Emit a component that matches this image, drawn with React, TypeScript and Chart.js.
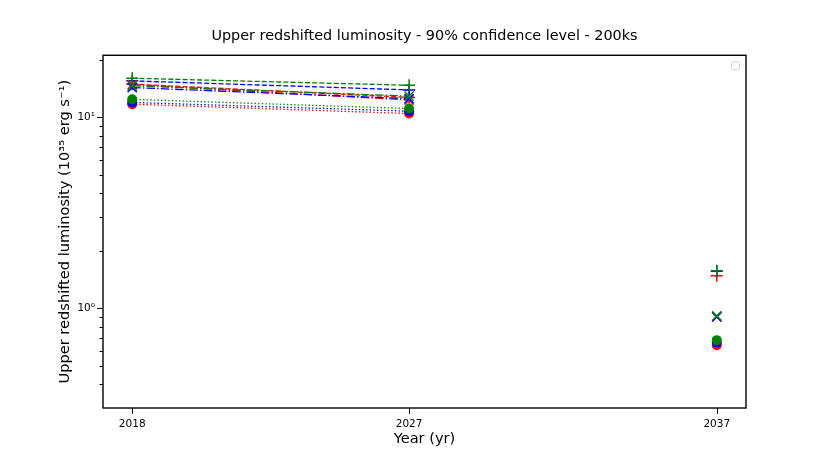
import { useEffect, useRef } from 'react';
import { Chart, registerables } from 'chart.js';

Chart.register(...registerables);

const FONT = "'DejaVu Sans', Verdana, sans-serif";

// observation years
const years = [2018, 2027, 2037];

// '+' markers, dashed lines
const redPlus = [14.9, 12.7, 1.48];
const bluePlus = [15.5, 13.9, 1.56];
const greenPlus = [16.0, 14.7, 1.57];

// 'x' markers, dash-dot lines
const redCross = [14.8, 12.3, 0.9];
const blueCross = [14.3, 12.5, 0.9];
const greenCross = [14.6, 12.9, 0.91];

// 'o' markers, dotted lines
const redCircle = [11.7, 10.45, 0.64];
const blueCircle = [11.95, 10.75, 0.66];
const greenCircle = [12.4, 11.1, 0.68];

const xTicks = [2018, 2027, 2037];
const yTicks = [0.4, 0.5, 0.6, 0.7, 0.8, 0.9, 1, 2, 3, 4, 5, 6, 7, 8, 9, 10, 20];
const yLabels: Record<number, string> = { 1: '10\u2070', 10: '10\u00b9' };

type Kind = 'plus' | 'cross' | 'circle';

const makeSeries = (label: string, values: number[], color: string, kind: Kind, order: number) => {
  const dash =
    kind === 'plus' ? [5, 2.2] : kind === 'cross' ? [8.5, 2.2, 1.4, 2.2] : [1.4, 2.2];
  return {
    label,
    data: years.map((x, i) => ({ x, y: values[i] })),
    showLine: true,
    borderColor: color,
    borderWidth: 1.3,
    borderDash: dash,
    backgroundColor: color,
    pointStyle: kind === 'plus' ? 'cross' : kind === 'cross' ? 'crossRot' : 'circle',
    pointRadius: kind === 'plus' ? 6 : kind === 'cross' ? 6.5 : 5,
    pointBorderWidth: kind === 'circle' ? 0 : 1.5,
    pointBorderColor: color,
    pointBackgroundColor: color,
    order,
    segment: {
      borderColor: (ctx: any) => (ctx.p1DataIndex === 2 ? 'rgba(0,0,0,0)' : color),
    },
  };
};

const frame = {
  id: 'frame',
  afterDraw(chart: any) {
    const { ctx, chartArea: a, scales } = chart;
    ctx.save();
    ctx.strokeStyle = '#000';
    ctx.lineWidth = 1;
    for (const t of scales.y.ticks) {
      const y = Math.round(scales.y.getPixelForValue(t.value)) + 0.5;
      const len = t.value === 1 || t.value === 10 ? 6 : 3.5;
      ctx.beginPath();
      ctx.moveTo(a.left - len, y);
      ctx.lineTo(a.left, y);
      ctx.stroke();
    }
    for (const t of scales.x.ticks) {
      const x = Math.round(scales.x.getPixelForValue(t.value)) + 0.5;
      ctx.beginPath();
      ctx.moveTo(x, a.bottom);
      ctx.lineTo(x, a.bottom + 6);
      ctx.stroke();
    }
    ctx.lineWidth = 1.4;
    ctx.strokeRect(a.left, a.top, a.right - a.left, a.bottom - a.top);
    // empty legend box
    ctx.strokeStyle = '#d0d0d0';
    ctx.lineWidth = 1;
    ctx.beginPath();
    ctx.roundRect(a.right - 14.5, a.top + 6.5, 8, 8, 2);
    ctx.stroke();
    ctx.restore();
  },
};

const App = () => {
  const canvasRef = useRef<HTMLCanvasElement | null>(null);
  const chartRef = useRef<Chart | null>(null);

  useEffect(() => {
    if (!canvasRef.current) return;
    if (chartRef.current) chartRef.current.destroy();

    chartRef.current = new Chart(canvasRef.current, {
      type: 'scatter',
      data: {
        datasets: [
          makeSeries('red +', redPlus, '#ff0000', 'plus', 9),
          makeSeries('blue +', bluePlus, '#0000ff', 'plus', 8),
          makeSeries('green +', greenPlus, '#008000', 'plus', 7),
          makeSeries('red x', redCross, '#ff0000', 'cross', 6),
          makeSeries('blue x', blueCross, '#0000ff', 'cross', 5),
          makeSeries('green x', greenCross, '#008000', 'cross', 4),
          makeSeries('red o', redCircle, '#ff0000', 'circle', 3),
          makeSeries('blue o', blueCircle, '#0000ff', 'circle', 2),
          makeSeries('green o', greenCircle, '#008000', 'circle', 1),
        ] as any,
      },
      options: {
        responsive: false,
        animation: false,
        layout: { padding: { left: 50, right: 84, top: 0, bottom: 0 } },
        plugins: {
          legend: { display: false },
          tooltip: { enabled: false },
          title: {
            display: true,
            fullSize: false,
            text: 'Upper redshifted luminosity - 90% confidence level - 200ks',
            color: '#000',
            font: { family: FONT, size: 14.4, weight: 'normal' },
            padding: { top: 28, bottom: 10 },
          },
        },
        scales: {
          x: {
            type: 'linear',
            min: 2017.05,
            max: 2037.95,
            afterBuildTicks: (s: any) => {
              s.ticks = xTicks.map((value) => ({ value }));
            },
            afterFit: (s: any) => {
              s.height = 59;
            },
            grid: { display: false, drawTicks: false },
            border: { display: false },
            ticks: {
              autoSkip: false,
              maxRotation: 0,
              padding: 10,
              color: '#000',
              font: { family: FONT, size: 10.5 },
              callback: (v: any) => String(v),
            },
            title: {
              display: true,
              text: 'Year (yr)',
              color: '#000',
              font: { family: FONT, size: 14.6 },
              padding: { top: 0, bottom: 19.5 },
            },
          },
          y: {
            type: 'logarithmic',
            min: 0.3,
            max: 21.1,
            afterBuildTicks: (s: any) => {
              s.ticks = yTicks.map((value) => ({ value }));
            },
            afterFit: (s: any) => {
              s.width = 53;
            },
            grid: { display: false, drawTicks: false },
            border: { display: false },
            ticks: {
              autoSkip: false,
              padding: 8,
              color: '#000',
              font: { family: FONT, size: 10.5 },
              callback: (v: any) => yLabels[Number(v)] ?? '',
            },
            title: {
              display: true,
              text: 'Upper redshifted luminosity (10\u00b3\u2075 erg s\u207b\u00b9)',
              color: '#000',
              font: { family: FONT, size: 14.6 },
              padding: { top: 6.2, bottom: 0 },
            },
          },
        },
      },
      plugins: [frame],
    });

    return () => {
      if (chartRef.current) {
        chartRef.current.destroy();
        chartRef.current = null;
      }
    };
  }, []);

  return (
    <div style={{ position: 'absolute', left: 0, top: 0, width: 830, height: 467, background: '#fff' }}>
      <canvas ref={canvasRef} width={830} height={467} style={{ display: 'block' }} />
    </div>
  );
};

export default App;
